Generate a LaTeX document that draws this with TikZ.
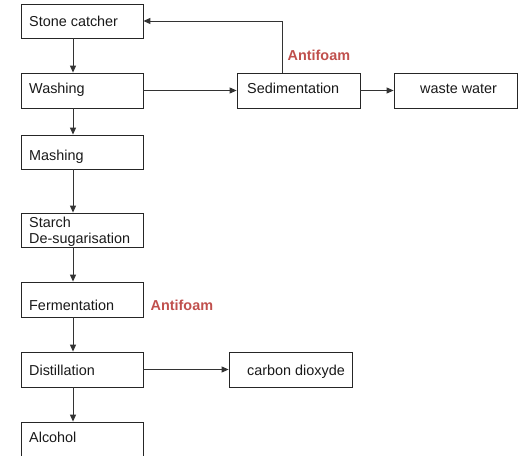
\documentclass[tikz,border=0pt]{standalone}
\usepackage{fontspec}
\setmainfont{Liberation Sans}
\usetikzlibrary{arrows.meta,calc}
\definecolor{afred}{HTML}{C0504D}
\tikzset{
  box/.style={draw=black!85, line width=0.8pt, rectangle, minimum width=122pt, minimum height=34pt, inner sep=0pt},
  lbl/.style={anchor=base west, inner sep=0pt, font=\fontsize{14.4}{16.5}\selectfont, text=black!90},
  foam/.style={anchor=base west, inner sep=0pt, font=\fontsize{14.4}{16.5}\selectfont\bfseries, text=afred},
  arr/.style={draw=black!80, line width=1pt, -{Triangle[length=7pt,width=6pt]}}
}
\begin{document}
\begin{tikzpicture}[x=1pt,y=-1pt]
\useasboundingbox (0,0) rectangle (518,455);
% boxes
\node[box] (sc) at (82,21) {};
\node[box, minimum height=35pt] (wa) at (82,90.5) {};
\node[box, minimum width=123pt, minimum height=35pt] (sed) at (298.5,90.5) {};
\node[box, minimum width=123pt, minimum height=35pt] (ww) at (455.5,90.5) {};
\node[box] (ma) at (82,152) {};
\node[box] (st) at (82,230) {};
\node[box, minimum height=35pt] (fe) at (82,299.5) {};
\node[box, minimum height=35pt] (di) at (82,369.5) {};
\node[box, minimum width=123pt, minimum height=35pt] (co) at (290.5,369.5) {};
\node[box] (al) at (82,439) {};
% texts
\node[lbl] (tsc) at (29,26) {Stone catcher};
\node[lbl] (twa) at (29,93.5) {Washing};
\node[lbl] (tsed) at (247,93.5) {Sedimentation};
\node[lbl] (tww) at (420,93.5) {waste water};
\node[lbl] (tma) at (29,160) {Mashing};
\node[lbl] (tst1) at (29,227) {Starch};
\node[lbl] (tst2) at (29,243.5) {De-sugarisation};
\node[lbl] (tfe) at (29,310) {Fermentation};
\node[lbl] (tdi) at (29,375.5) {Distillation};
\node[lbl] (tco) at (247,375.5) {carbon dioxyde};
\node[lbl] (tal) at (29,442.5) {Alcohol};
\node[foam] (af1) at (287.5,60) {Antifoam};
\node[foam] (af2) at (150.5,310) {Antifoam};
% connectors
\draw[arr] ([xshift=-9pt]sc.south) -- ([xshift=-9pt]wa.north);
\draw[arr] ([xshift=-9pt]wa.south) -- ([xshift=-9pt]ma.north);
\draw[arr] ([xshift=-9pt]ma.south) -- ([xshift=-9pt]st.north);
\draw[arr] ([xshift=-9pt]st.south) -- ([xshift=-9pt]fe.north);
\draw[arr] ([xshift=-9pt]fe.south) -- ([xshift=-9pt]di.north);
\draw[arr] ([xshift=-9pt]di.south) -- ([xshift=-9pt]al.north);
\draw[arr] (wa.east) -- (sed.west);
\draw[arr] (sed.east) -- (ww.west);
\draw[arr] (di.east) -- (co.west);
\draw[arr] ([xshift=-16.5pt]sed.north) |- (sc.east);
\end{tikzpicture}
\end{document}
